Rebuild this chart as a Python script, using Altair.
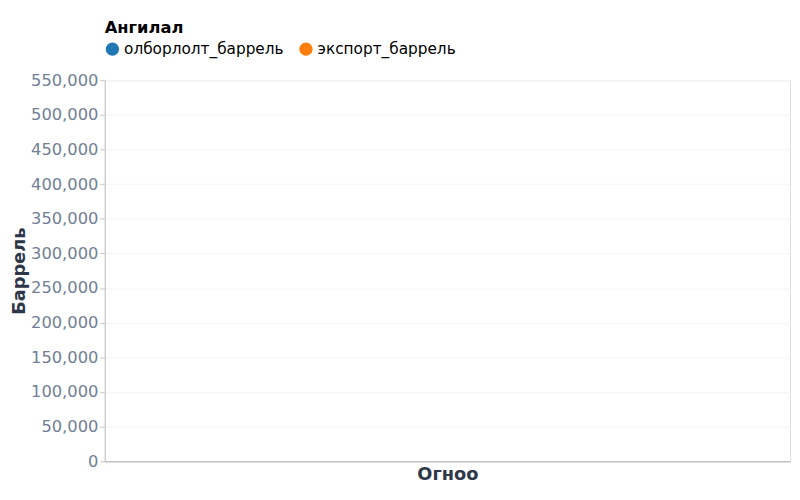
import altair as alt
import pandas as pd

# Data (the reference chart shows no drawn marks: the series are empty)
dates = []
series = []
values = []

categories = ["олборлолт_баррель", "экспорт_баррель"]
colors = ["#1f77b4", "#ff7f0e"]

df = pd.DataFrame({"Огноо": pd.Series(dates, dtype="object"),
                   "Ангилал": pd.Series(series, dtype="object"),
                   "Баррель": pd.Series(values, dtype="float")})

font = "DejaVu Sans"
axis_grey = "#c4c4c4"

chart = alt.Chart(df).mark_line(point=True).encode(
    x=alt.X("Огноо:N", title="Огноо",
            axis=alt.Axis(labels=False, ticks=False, titleFontSize=18, titleColor="#2d3748",
                          titleFont=font, titleFontWeight="bold", domainColor=axis_grey,
                          domainWidth=1.5)),
    y=alt.Y("Баррель:Q", title="Баррель",
            scale=alt.Scale(domain=[0, 550000], nice=False),
            axis=alt.Axis(format=",.0f", tickCount=11, labelFontSize=16.5, labelColor="#718096",
                          labelFont=font, titleFont=font, titleFontSize=18, titlePadding=2,
                          titleColor="#2d3748", titleFontWeight="bold",
                          gridColor="#f5f5f5", domainColor=axis_grey, tickColor=axis_grey)),
    color=alt.Color("Ангилал:N", title="Ангилал",
                    scale=alt.Scale(domain=categories, range=colors),
                    legend=alt.Legend(orient="top", titleOrient="top", symbolType="circle",
                                      symbolSize=180, labelFontSize=15.5, titleFontSize=16.5,
                                      labelFont=font, titleFont=font, titleColor="#000000",
                                      labelColor="#000000", symbolStrokeWidth=0,
                                      symbolOpacity=1, columnPadding=14, offset=22,
                                      labelLimit=400)),
).properties(width=694, height=386, padding={"left": 2, "top": 9, "right": 2, "bottom": 5})

chart = chart.configure_view(strokeWidth=0).configure(font=font)

chart.save("out.html", embed_options={"renderer": "svg", "actions": False})
